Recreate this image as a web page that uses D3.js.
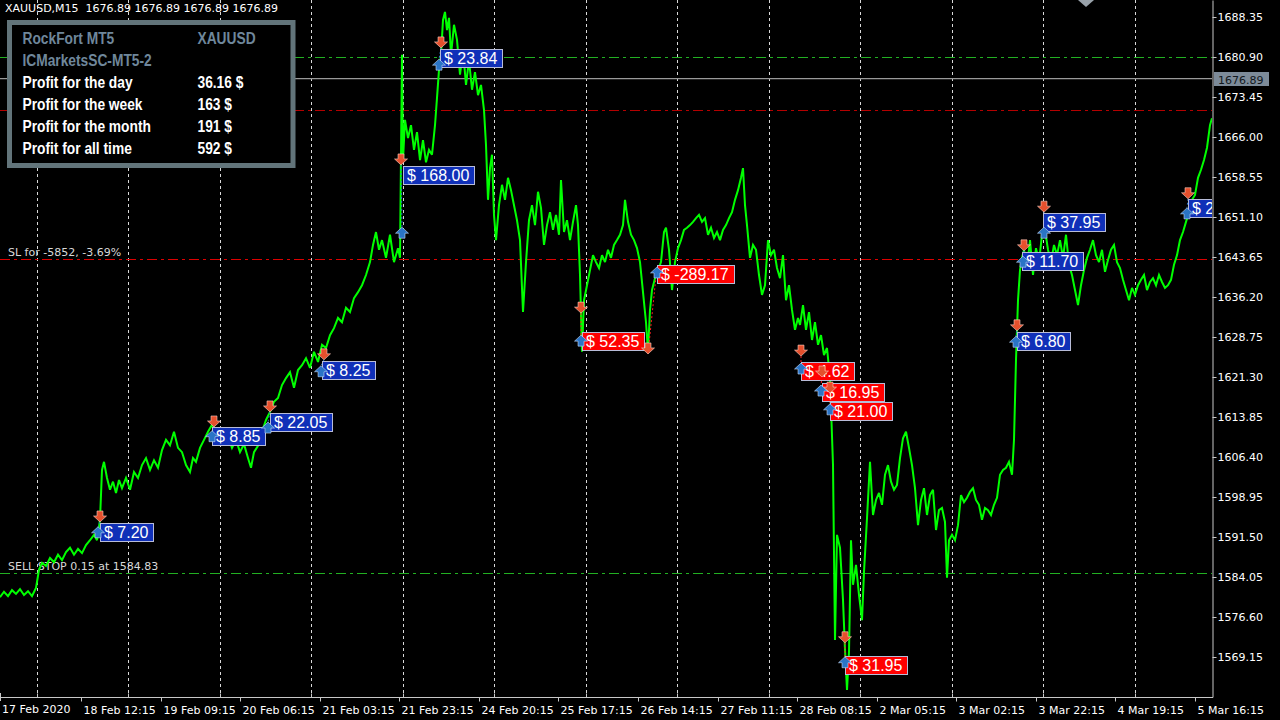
<!DOCTYPE html>
<html><head><meta charset="utf-8">
<script src="https://cdn.jsdelivr.net/npm/d3@7"></script>
<style>
html,body{margin:0;padding:0;background:#000;overflow:hidden}
svg{display:block}
</style></head><body>
<svg id="chart" width="1280" height="720"></svg>
<script>
// ---------- DATA ----------
const symbolTitle = "XAUUSD,M15";
const lastPrice = 1676.89;
// M15 close prices: [bar index, price]
const closeSeries = [[0,1580.3],[4,1581.3],[8,1580.5],[12,1581.6],[16,1580.9],[20,1581.8],[24,1580.7],[28,1581.4],[32,1580.5],[36,1582.0],[39,1585.4],[42,1586.7],[46,1586.1],[50,1587.6],[54,1586.8],[58,1588.2],[62,1587.2],[66,1588.7],[70,1589.5],[74,1588.2],[78,1589.3],[82,1588.5],[86,1590.0],[90,1590.9],[94,1591.9],[97,1590.9],[100,1594.7],[102,1604.0],[104,1605.5],[107,1602.5],[110,1600.3],[113,1601.8],[116,1599.7],[119,1602.1],[122,1600.6],[126,1602.5],[130,1600.3],[134,1603.6],[138,1602.5],[142,1604.9],[146,1606.2],[150,1604.0],[154,1605.8],[158,1604.4],[162,1607.7],[166,1609.6],[170,1608.6],[174,1611.1],[178,1608.1],[182,1607.3],[186,1604.9],[190,1603.6],[193,1606.2],[196,1605.5],[200,1608.1],[204,1609.6],[208,1611.1],[212,1612.4],[216,1609.9],[220,1611.4],[224,1608.6],[228,1610.3],[232,1608.1],[236,1609.6],[240,1607.3],[244,1608.8],[248,1606.2],[251,1604.4],[254,1607.3],[258,1608.5],[262,1611.1],[266,1613.3],[270,1614.8],[274,1616.7],[278,1617.4],[282,1619.8],[286,1621.1],[290,1622.2],[294,1619.3],[298,1622.6],[302,1623.5],[306,1624.8],[310,1623.0],[314,1626.0],[318,1624.1],[322,1627.3],[326,1626.7],[330,1629.1],[334,1630.4],[338,1632.3],[342,1631.5],[346,1634.2],[350,1633.4],[354,1636.0],[358,1637.1],[362,1638.4],[366,1640.3],[370,1642.7],[373,1645.9],[376,1648.3],[379,1645.0],[382,1646.8],[386,1643.5],[390,1647.8],[394,1642.7],[398,1645.3],[400,1643.5],[402,1681.3],[403,1661.7],[405,1669.2],[408,1665.8],[411,1668.2],[414,1663.6],[417,1666.9],[420,1661.7],[423,1665.4],[426,1661.3],[429,1663.6],[432,1662.7],[435,1668.2],[437,1673.3],[439,1678.5],[441,1681.3],[443,1687.8],[445,1689.3],[447,1685.9],[449,1688.2],[451,1681.3],[454,1686.9],[457,1684.1],[460,1677.6],[463,1682.2],[466,1675.7],[469,1680.3],[472,1674.8],[475,1678.1],[478,1673.8],[481,1675.7],[484,1671.0],[486,1664.5],[488,1654.3],[490,1660.2],[492,1662.7],[494,1651.5],[496,1646.8],[499,1653.3],[502,1657.1],[505,1654.3],[508,1658.4],[511,1656.1],[514,1653.3],[517,1650.5],[520,1646.8],[523,1633.4],[526,1642.7],[529,1650.5],[532,1653.3],[535,1649.6],[538,1655.8],[541,1652.8],[544,1645.9],[547,1649.6],[550,1652.0],[553,1648.7],[556,1651.5],[559,1647.8],[561,1658.0],[564,1648.3],[567,1650.5],[570,1646.8],[573,1650.2],[576,1653.3],[578,1649.6],[580,1640.3],[582,1626.0],[584,1635.6],[587,1638.4],[590,1641.2],[593,1644.0],[596,1642.7],[599,1641.6],[602,1644.0],[605,1642.7],[608,1645.0],[611,1643.5],[614,1645.9],[617,1646.8],[620,1647.8],[623,1649.6],[625,1654.3],[628,1650.2],[631,1647.8],[634,1646.8],[637,1645.3],[640,1642.7],[643,1637.1],[646,1631.5],[648,1626.0],[650,1633.8],[652,1637.5],[655,1639.7],[658,1641.2],[661,1642.7],[664,1648.3],[666,1649.1],[669,1645.0],[672,1637.5],[675,1642.7],[678,1645.3],[681,1646.8],[684,1648.7],[687,1649.1],[690,1649.6],[693,1650.2],[696,1650.9],[699,1651.5],[702,1650.2],[705,1650.9],[708,1647.8],[711,1649.1],[714,1647.2],[717,1648.3],[720,1646.8],[723,1648.7],[726,1649.6],[729,1650.9],[732,1652.0],[735,1654.3],[738,1656.1],[741,1658.4],[743,1660.2],[745,1653.3],[747,1649.6],[750,1643.5],[753,1645.9],[756,1645.0],[759,1640.3],[762,1636.6],[765,1638.4],[768,1646.8],[771,1644.0],[774,1645.0],[777,1641.6],[780,1639.7],[783,1644.0],[786,1635.6],[789,1638.4],[792,1633.8],[795,1630.1],[798,1632.3],[800,1631.0],[803,1634.7],[806,1630.1],[809,1633.4],[812,1628.2],[815,1631.5],[818,1627.3],[821,1629.1],[824,1625.4],[827,1626.7],[830,1621.1],[833,1604.9],[835,1572.3],[837,1591.9],[840,1589.5],[843,1579.8],[845,1570.5],[847,1563.0],[849,1570.1],[851,1590.9],[853,1582.6],[856,1586.3],[859,1580.7],[862,1576.0],[864,1585.0],[867,1595.0],[870,1605.5],[873,1595.6],[876,1598.4],[879,1599.7],[882,1597.5],[885,1603.1],[888,1604.9],[891,1601.8],[894,1600.3],[897,1601.2],[900,1606.2],[903,1609.9],[906,1611.1],[909,1608.1],[912,1604.9],[915,1600.6],[918,1593.7],[921,1598.4],[924,1600.6],[927,1595.6],[930,1599.3],[933,1600.3],[936,1592.8],[939,1596.5],[942,1596.9],[945,1594.3],[947,1583.9],[949,1590.9],[952,1591.9],[955,1590.9],[958,1593.7],[961,1599.3],[964,1598.0],[967,1598.8],[970,1599.9],[973,1600.6],[976,1598.4],[979,1597.5],[982,1594.7],[985,1596.9],[988,1596.5],[991,1595.6],[994,1597.5],[997,1598.8],[1000,1603.1],[1003,1604.0],[1006,1604.4],[1009,1605.5],[1012,1603.1],[1014,1609.6],[1016,1624.5],[1018,1635.6],[1020,1641.2],[1022,1643.5],[1024,1645.0],[1027,1641.6],[1030,1646.8],[1033,1640.3],[1036,1645.3],[1039,1642.7],[1042,1647.8],[1045,1648.7],[1048,1645.0],[1051,1642.7],[1054,1645.9],[1057,1644.0],[1060,1646.8],[1063,1643.5],[1066,1647.8],[1069,1642.2],[1072,1640.3],[1075,1637.5],[1078,1634.7],[1081,1638.4],[1084,1641.2],[1087,1643.5],[1090,1645.0],[1093,1646.8],[1096,1644.0],[1099,1642.7],[1102,1645.0],[1105,1640.9],[1108,1643.1],[1111,1645.0],[1114,1645.9],[1117,1642.7],[1120,1641.6],[1123,1639.4],[1126,1637.5],[1129,1635.6],[1132,1637.9],[1135,1636.6],[1138,1638.4],[1141,1639.4],[1144,1640.3],[1147,1637.5],[1150,1639.0],[1153,1639.7],[1156,1638.4],[1159,1640.3],[1162,1639.0],[1165,1637.9],[1168,1638.4],[1171,1639.4],[1174,1642.2],[1177,1644.0],[1180,1646.8],[1183,1648.3],[1186,1650.2],[1189,1652.0],[1192,1654.3],[1195,1655.2],[1198,1658.4],[1201,1659.9],[1204,1661.7],[1207,1664.0],[1210,1668.2],[1212,1669.5]];

const yTickLabels = ["1569.15","1576.60","1584.05","1591.50","1598.95","1606.40","1613.85","1621.30","1628.75","1636.20","1643.65","1651.10","1658.55","1666.00","1673.45","1680.90","1688.35"];
const firstDateLabel = "17 Feb 2020";
const xTickIdx = [81,161,240,320,399,479,558,638,718,797,877,956,1036,1115,1195];
const xTickLabels = ["18 Feb 12:15","19 Feb 09:15","20 Feb 06:15","21 Feb 03:15","21 Feb 23:15","24 Feb 20:15","25 Feb 17:15","26 Feb 14:15","27 Feb 11:15","28 Feb 08:15","2 Mar 05:15","3 Mar 02:15","3 Mar 22:15","4 Mar 19:15","5 Mar 16:15"];
const gridIdx = [37,128,220,311,403,494,586,677,769,860,952,1043,1135];

// horizontal order levels
const levelPrices = [1680.90, 1671.00, 1643.30, 1584.83];
const levelKinds  = ["tp", "sl2", "sl", "pending"];
const levelTexts  = ["", "", "SL for -5852, -3.69%", "SELL STOP 0.15 at 1584.83"];

// trades (same order in every array)
const sellIdx   = [100,214,270,324,401,441,581,648,801,822,830,845,1017,1024,1044,1188];
const sellPrice = [1594.3,1612.0,1614.8,1624.5,1660.8,1682.6,1633.2,1625.6,1625.2,1621.3,1618.3,1571.8,1629.9,1644.8,1652.0,1654.5];
const buyIdx    = [98,212,268,321,402,439,581,657,801,821,830,845,1016,1023,1044,1187];
const buyPrice  = [1593.4,1611.3,1612.9,1623.4,1649.2,1680.5,1629.1,1641.8,1623.9,1619.8,1616.3,1569.2,1628.9,1643.8,1649.2,1652.8];
// last label is cut off by the price axis in the source: only "$ 2" is visible
const profitText  = ["$ 7.20","$ 8.85","$ 22.05","$ 8.25","$ 168.00","$ 23.84","$ 52.35","$ -289.17","$ 4.62","$ 16.95","$ 21.00","$ 31.95","$ 6.80","$ 11.70","$ 37.95","$ 2"];
const profitIdx   = [100,212,270,322,403,440,582,657,801,822,830,845,1017,1022,1043,1188];
const profitPrice = [1592.4,1610.3,1612.9,1622.6,1658.9,1680.7,1628.0,1640.5,1622.4,1618.5,1615.0,1567.7,1628.0,1642.9,1650.2,1652.8];
const profitKind  = ["b","b","b","b","b","b","r","r","r","r","r","r","b","b","b","b"];

// info panel
const panelHead  = [["RockFort MT5","XAUUSD"],["ICMarketsSC-MT5-2",""]];
const panelRows  = ["Profit for the day","Profit for the week","Profit for the month","Profit for all time"];
const panelVals  = ["36.16 $","163 $","191 $","592 $"];

// ---------- DRAW ----------
const W = 1280, H = 720, PW = 1212, PH = 697;
const svg = d3.select("#chart");
svg.append("rect").attr("width",W).attr("height",H).attr("fill","#000");

const x = d3.scaleLinear().domain([0, 1212]).range([0, PW]);
const y = d3.scaleLinear().domain([1561.70, 1691.52]).range([PH, 0]);

svg.append("defs").append("clipPath").attr("id","plotclip")
  .append("rect").attr("x",0).attr("y",0).attr("width",PW).attr("height",PH);
const plot = svg.append("g").attr("clip-path","url(#plotclip)");

// vertical grid
plot.selectAll("line.grid").data(gridIdx).join("line")
  .attr("x1",d=>Math.round(x(d))+0.5).attr("x2",d=>Math.round(x(d))+0.5)
  .attr("y1",0).attr("y2",PH)
  .attr("stroke","#d8d8d8").attr("stroke-width",1).attr("stroke-dasharray","3,3");

// level lines
const levelColor = {tp:"#22b022", sl2:"#b40000", sl:"#dd0000", pending:"#22b022"};
levelPrices.forEach((p,i)=>{
  plot.append("line").attr("x1",0).attr("x2",PW)
    .attr("y1",Math.round(y(p))+0.5).attr("y2",Math.round(y(p))+0.5)
    .attr("stroke",levelColor[levelKinds[i]]).attr("stroke-width",1)
    .attr("stroke-dasharray","10,4,3,4");
  if (levelTexts[i]) {
    plot.append("text").attr("x",8).attr("y",y(p)-3)
      .attr("font-family","DejaVu Sans").attr("font-size",11)
      .attr("fill","#d8d8d8").text(levelTexts[i]);
  }
});

// current price line
plot.append("line").attr("x1",0).attr("x2",PW)
  .attr("y1",y(lastPrice)).attr("y2",y(lastPrice))
  .attr("stroke","#999999").attr("stroke-width",1.2);

// price line
const line = d3.line().x(d=>x(d[0])).y(d=>y(d[1]));
plot.append("path").datum(closeSeries).attr("d",line)
  .attr("fill","none").attr("stroke","#00ff00").attr("stroke-width",2)
  .attr("stroke-linejoin","miter").attr("stroke-miterlimit",3);

// trade connecting lines
sellIdx.forEach((s,i)=>{
  plot.append("line")
    .attr("x1",x(s)).attr("y1",y(sellPrice[i]))
    .attr("x2",x(buyIdx[i])).attr("y2",y(buyPrice[i]))
    .attr("stroke",profitKind[i]==="b"?"#2a74c6":"#ff2020")
    .attr("stroke-width",1).attr("stroke-dasharray","2,2");
});

// profit labels
profitText.forEach((t,i)=>{
  const gx = Math.round(x(profitIdx[i]));
  const g = plot.append("g").attr("transform",`translate(${gx},${Math.round(y(profitPrice[i]))})`);
  const r = g.append("rect").attr("x",0.5).attr("y",-8.5).attr("height",18)
    .attr("fill",profitKind[i]==="b"?"#1030b8":"#ff0000")
    .attr("stroke","#b8bcd8").attr("stroke-width",1);
  const tx = g.append("text").attr("x",4).attr("y",6)
    .attr("font-family","Liberation Sans, Arial, sans-serif").attr("font-size",16)
    .attr("fill","#ffffff").text(t);
  const w = tx.node().getComputedTextLength();
  r.attr("width", Math.max(Math.round(w + 9), PW + 4 - gx > 0 && i === profitText.length - 1 ? PW + 4 - gx : 0));
});

// arrows
const downArrow = "M0,0 L-6.5,-6 L-3,-6 L-3,-11 L3,-11 L3,-6 L6.5,-6 Z";
const upArrow   = "M0,0 L6.5,6 L3,6 L3,11 L-3,11 L-3,6 L-6.5,6 Z";
sellIdx.forEach((s,i)=>{
  plot.append("path").attr("d",downArrow)
    .attr("transform",`translate(${x(s)},${y(sellPrice[i])})`)
    .attr("fill","#e5502d").attr("stroke","#ffd8cc").attr("stroke-width",0.8).attr("stroke-opacity",0.7);
});
buyIdx.forEach((b,i)=>{
  plot.append("path").attr("d",upArrow)
    .attr("transform",`translate(${x(b)},${y(buyPrice[i])})`)
    .attr("fill","#2a74c6").attr("stroke","#d0e4ff").attr("stroke-width",0.8).attr("stroke-opacity",0.7);
});

// small top marker
plot.append("path").attr("d","M1078,0 L1094,0 L1086,7 Z").attr("fill","#9aa3ab");

// info panel
const panel = svg.append("g");
panel.append("rect").attr("x",9.5).attr("y",22.5).attr("width",283.5).attr("height",143)
  .attr("fill","#000").attr("stroke","#62747a").attr("stroke-width",5);
const pf = "Liberation Sans, Arial, sans-serif";
function ptext(tx, ty, str, col) {
  panel.append("text").attr("transform",`translate(${tx},${ty}) scale(0.81,1)`)
    .attr("font-family",pf).attr("font-weight","bold").attr("font-size",17)
    .attr("fill",col).text(str);
}
panelHead.forEach((r,i)=>{
  ptext(22.5, 44+22*i, r[0], "#6f879b");
  if (r[1]) ptext(197.5, 44+22*i, r[1], "#6f879b");
});
panelRows.forEach((r,i)=>{
  ptext(22.5, 88+22*i, r, "#ffffff");
  ptext(197.5, 88+22*i, panelVals[i], "#ffffff");
});

// header
const pstr = d3.format(".2f")(lastPrice);
svg.append("text").attr("x",5).attr("y",12)
  .attr("font-family","DejaVu Sans").attr("font-size",11).attr("fill","#ffffff")
  .attr("xml:space","preserve")
  .text(`${symbolTitle}  ${pstr} ${pstr} ${pstr} ${pstr}`);

// right axis
const yAxis = d3.axisRight(y).tickValues(yTickLabels.map(Number))
  .tickFormat(d3.format(".2f")).tickSize(4).tickSizeOuter(0).tickPadding(1);
const ya = svg.append("g").attr("transform",`translate(${PW+0.5},0)`).call(yAxis);
ya.select(".domain").attr("stroke","#c8c8c8");
ya.selectAll(".tick line").attr("stroke","#c8c8c8");
ya.selectAll(".tick text").attr("font-family","DejaVu Sans").attr("font-size",11).attr("fill","#ffffff");

// current price tag
const tag = svg.append("g").attr("transform",`translate(${PW+2},${Math.round(y(lastPrice))})`);
tag.append("rect").attr("x",0).attr("y",-7).attr("width",55).attr("height",14).attr("fill","#7d8b99");
tag.append("text").attr("x",4).attr("y",4.5).attr("font-family","DejaVu Sans").attr("font-size",11)
  .attr("fill","#111820").text(pstr);

// bottom axis: labelled ticks
const xAxis = d3.axisBottom(x).tickValues(xTickIdx)
  .tickFormat((d,i)=>xTickLabels[i]).tickSize(4).tickSizeOuter(0).tickPadding(0);
const xa = svg.append("g").attr("transform",`translate(0,${PH+0.5})`).call(xAxis);
xa.select(".domain").attr("stroke","#c8c8c8").attr("d",`M0,0H${PW+1}`);
xa.selectAll(".tick line").attr("stroke","#c8c8c8");
xa.selectAll(".tick text").attr("text-anchor","start").attr("x",2).attr("y",9)
  .attr("font-family","DejaVu Sans").attr("font-size",11).attr("fill","#ffffff");
// grid ticks pointing up
const xg = d3.axisTop(x).tickValues(gridIdx).tickFormat("").tickSize(4).tickSizeOuter(0);
const xga = svg.append("g").attr("transform",`translate(0,${PH+0.5})`).call(xg);
xga.select(".domain").remove();
xga.selectAll(".tick line").attr("stroke","#c8c8c8");
// first date label
svg.append("line").attr("x1",0.5).attr("x2",0.5).attr("y1",PH-4).attr("y2",PH+4).attr("stroke","#c8c8c8");
svg.append("text").attr("x",2).attr("y",PH+16).attr("font-family","DejaVu Sans").attr("font-size",11)
  .attr("fill","#ffffff").text(firstDateLabel);
</script>
</body></html>
